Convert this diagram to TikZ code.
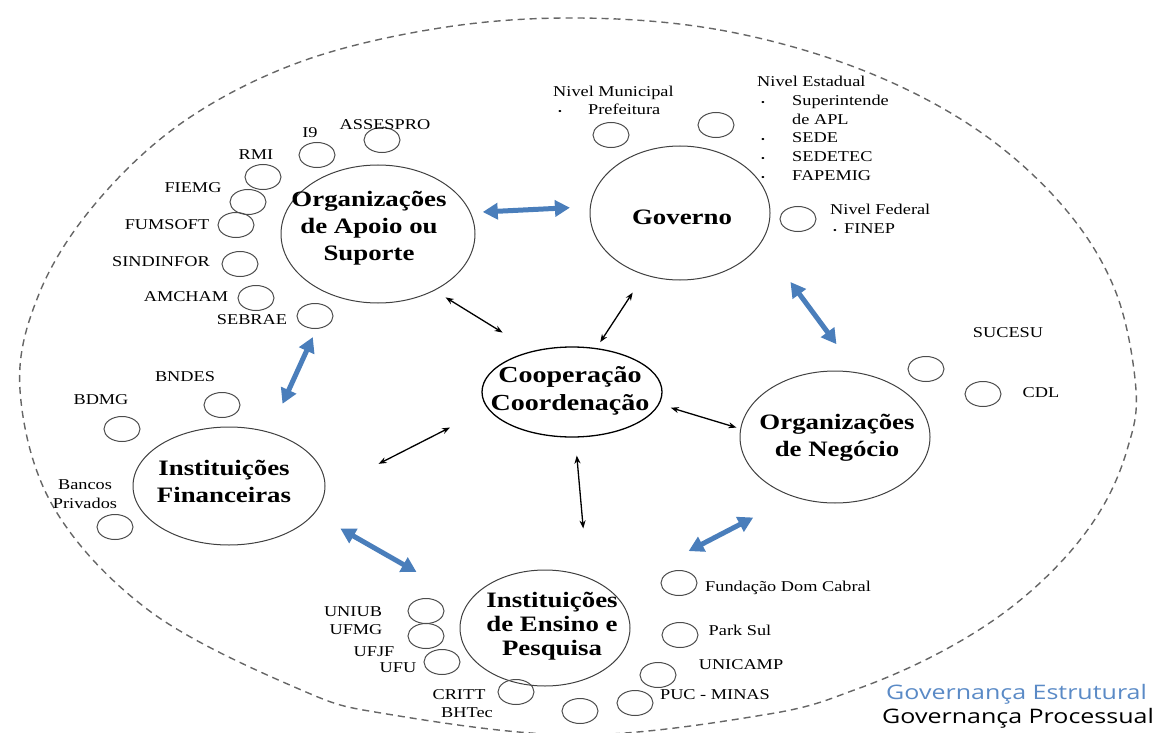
\documentclass[tikz,border=0pt]{standalone}
\usepackage{fontspec}
\setmainfont{Liberation Serif}[FakeStretch=1.22]
\newfontfamily\legendfont{Open Sans}[FakeStretch=1.25]
\usetikzlibrary{shapes.geometric,arrows.meta}

\definecolor{govblue}{HTML}{4A7EBB}
\definecolor{legendblue}{HTML}{5A8AC6}
\newcommand{\smallbullet}{{\fontsize{9}{9}\selectfont\textbullet}}

\tikzset{
    bigcirc/.style={ellipse, draw=black!75, line width=1pt, inner sep=0pt},
    title/.style={font=\fontsize{22}{27}\selectfont\bfseries, align=center, inner sep=0pt},
    smallcirc/.style={ellipse, draw=black!70, line width=1pt, minimum width=36pt, minimum height=25pt, inner sep=0pt},
    lbl/.style={font=\fontsize{15}{18.6}\selectfont, inner sep=0pt},
    bluearrow/.style={{Triangle[length=15pt,width=16pt]}-{Triangle[length=15pt,width=16pt]}, line width=5pt, draw=govblue},
    thinarrow/.style={{Stealth[length=8pt,width=6pt]}-{Stealth[length=8pt,width=6pt]}, line width=1.3pt},
    frame/.style={draw=black!60, line width=1.4pt, dash pattern=on 7pt off 5pt}
}

\begin{document}
\begin{tikzpicture}[x=1pt, y=-1pt]
        \useasboundingbox (0, 0) rectangle (1162, 733);

        % outer frame
        \draw[frame] plot[smooth cycle, tension=0.6] coordinates {(578, 18) (720, 30) (857, 68) (973, 127) (1061, 204) (1115, 290) (1136, 390) (1127, 450) (1102, 508) (1061, 562) (1005, 612) (937, 654) (857, 689) (769, 714) (578, 735) (387, 714) (299, 689) (151, 612) (54, 508) (20, 390) (39, 294) (95, 204) (183, 122) (300, 62) (440, 28)};

        % main groups
        \node[bigcirc, minimum width=194pt, minimum height=138pt] (apoio) at (378, 234) {};
        \node[bigcirc, minimum width=180pt, minimum height=134pt] (gov) at (680, 213) {};
        \node[bigcirc, minimum width=190pt, minimum height=132pt] (neg) at (835, 437) {};
        \node[bigcirc, minimum width=192pt, minimum height=118pt] (fin) at (229, 486) {};
        \node[bigcirc, minimum width=170pt, minimum height=116pt] (ens) at (545, 628) {};
        \node[bigcirc, minimum width=180pt, minimum height=90pt, line width=1.3pt, draw=black] (coop) at (572, 392) {};

        \node[title] (apoio-t) at (369, 228) {Organizações\\de Apoio ou\\Suporte};
        \node[title] (gov-t) at (682, 217) {Governo};
        \node[title] (neg-t) at (837, 438) {Organizações\\de Negócio};
        \node[title] (fin-t) at (224, 481) {Instituições\\Financeiras};
        \node[title, font=\fontsize{22}{24}\selectfont\bfseries] (ens-t) at (552, 626) {Instituições\\de Ensino e\\Pesquisa};
        \node[title, font=\fontsize{23}{28}\selectfont\bfseries] (coop-t) at (570, 391) {Cooperação\\Coordenação};

        % apoio members
        \node[smallcirc] (c-assespro) at (382, 140) {};
        \node[smallcirc] (c-i9) at (317, 155) {};
        \node[smallcirc] (c-rmi) at (263, 177) {};
        \node[smallcirc] (c-fiemg) at (248, 202) {};
        \node[smallcirc] (c-fumsoft) at (236, 225) {};
        \node[smallcirc] (c-sindinfor) at (240, 264) {};
        \node[smallcirc] (c-amcham) at (256, 298) {};
        \node[smallcirc] (c-sebrae) at (315, 316) {};
        \node[lbl] (l-assespro) at (385, 125) {ASSESPRO};
        \node[lbl] (l-i9) at (310, 133) {I9};
        \node[lbl] (l-rmi) at (256, 155) {RMI};
        \node[lbl] (l-fiemg) at (193, 188) {FIEMG};
        \node[lbl] (l-fumsoft) at (167, 225) {FUMSOFT};
        \node[lbl] (l-sindinfor) at (161, 262) {SINDINFOR};
        \node[lbl] (l-amcham) at (186, 297) {AMCHAM};
        \node[lbl] (l-sebrae) at (252, 320) {SEBRAE};

        % governo members
        \node[smallcirc] (c-mun) at (611, 135) {};
        \node[smallcirc] (c-est) at (716, 125) {};
        \node[smallcirc] (c-fed) at (798, 219) {};
        \node[lbl, anchor=base west, align=left] (l-mun) at (553, 115) {Nivel Municipal\\\makebox[35pt][l]{\hspace*{5pt}\smallbullet}Prefeitura};
        \node[lbl, anchor=base west, align=left] (l-est) at (757, 180) {Nivel Estadual\\\makebox[35pt][l]{\hspace*{4pt}\smallbullet}Superintende\\\hspace*{35pt}de APL\\\makebox[35pt][l]{\hspace*{4pt}\smallbullet}SEDE\\\makebox[35pt][l]{\hspace*{4pt}\smallbullet}SEDETEC\\\makebox[35pt][l]{\hspace*{4pt}\smallbullet}FAPEMIG};
        \node[lbl, anchor=base west, align=left] (l-fed) at (830, 233) {Nivel Federal\\\makebox[14pt][l]{\hspace*{3pt}\smallbullet}FINEP};

        % negocio members
        \node[smallcirc] (c-sucesu) at (926, 369) {};
        \node[smallcirc] (c-cdl) at (983, 394) {};
        \node[lbl] (l-sucesu) at (1008, 333) {SUCESU};
        \node[lbl] (l-cdl) at (1041, 393) {CDL};

        % financeiras members
        \node[smallcirc] (c-bndes) at (222, 405) {};
        \node[smallcirc] (c-bdmg) at (122, 429) {};
        \node[smallcirc] (c-bancos) at (115, 527) {};
        \node[lbl] (l-bndes) at (185, 377) {BNDES};
        \node[lbl] (l-bdmg) at (101, 400) {BDMG};
        \node[lbl, align=center] (l-bancos) at (85, 494) {Bancos\\Privados};

        % ensino members
        \node[smallcirc] (c-uniub) at (426, 611) {};
        \node[smallcirc] (c-ufmg) at (426, 636) {};
        \node[smallcirc] (c-ufjf) at (442, 662) {};
        \node[smallcirc] (c-critt) at (516, 692) {};
        \node[smallcirc] (c-bhtec) at (580, 711) {};
        \node[smallcirc] (c-puc) at (635, 703) {};
        \node[smallcirc] (c-unicamp) at (658, 675) {};
        \node[smallcirc] (c-parksul) at (680, 635) {};
        \node[smallcirc] (c-fdc) at (679, 583) {};
        \node[lbl] (l-uniub) at (353, 612) {UNIUB};
        \node[lbl] (l-ufmg) at (356, 630) {UFMG};
        \node[lbl] (l-ufjf) at (374, 652) {UFJF};
        \node[lbl] (l-ufu) at (398, 668) {UFU};
        \node[lbl] (l-critt) at (459, 695) {CRITT};
        \node[lbl] (l-bhtec) at (467, 713) {BHTec};
        \node[lbl] (l-puc) at (715, 695) {PUC - MINAS};
        \node[lbl] (l-unicamp) at (741, 665) {UNICAMP};
        \node[lbl] (l-parksul) at (740, 630) {Park Sul};
        \node[lbl, anchor=west] (l-fdc) at (705, 588) {Fundação Dom Cabral};

        % structural links
        \draw[bluearrow, shorten <=12pt, shorten >=20pt] (apoio.13) -- (gov.176);
        \draw[bluearrow, shorten <=49pt, shorten >=35pt] (gov.-20) -- (neg.71);
        \draw[bluearrow, shorten <=45pt, shorten >=87pt] (neg.235) -- (ens.29);
        \draw[bluearrow, shorten <=60pt, shorten >=30pt] (ens.161) -- (fin.-18);
        \draw[bluearrow, shorten <=31pt, shorten >=46pt] (fin.53) -- (apoio.233);

        % process links
        \draw[thinarrow, shorten <=13pt, shorten >=35pt] (apoio.-45) -- (coop.134);
        \draw[thinarrow, shorten <=21pt, shorten >=7pt] (gov.240) -- (coop.61);
        \draw[thinarrow, shorten <=12pt, shorten >=4pt] (coop.-8) -- (neg.175);
        \draw[thinarrow, shorten <=18pt, shorten >=49pt] (coop.-86) -- (ens.50);
        \draw[thinarrow, shorten <=60pt, shorten >=42pt] (fin.-3) -- (coop.191);

        % legend
        \node[anchor=west, inner sep=0pt, font=\legendfont\fontsize{20}{23}\selectfont, text=legendblue] (leg-est) at (886, 694) {Governança Estrutural};
        \node[anchor=west, inner sep=0pt, font=\legendfont\fontsize{20}{23}\selectfont] (leg-proc) at (882, 718) {Governança Processual};
\end{tikzpicture}
\end{document}
